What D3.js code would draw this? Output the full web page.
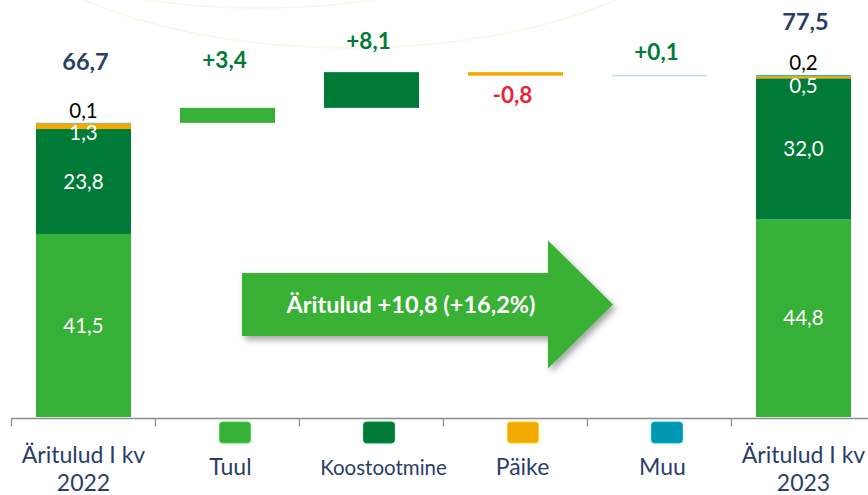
<!DOCTYPE html>
<html>
<head>
<meta charset="utf-8">
<script src="https://cdn.jsdelivr.net/npm/d3@7"></script>
<style>
  html, body { margin: 0; padding: 0; background: #fff; }
  svg { display: block; }
  text { font-family: Lato, "Noto Sans", sans-serif; }
</style>
</head>
<body>
<div id="chart"></div>
<script>
// ---------- data ----------
const categories = ["Äritulud I kv 2022", "Tuul", "Koostootmine", "Päike", "Muu", "Äritulud I kv 2023"];
const series = ["Tuul", "Koostootmine", "Päike", "Muu"];
const start2022 = [41.5, 23.8, 1.3, 0.1];   // Tuul, Koostootmine, Päike, Muu
const end2023   = [44.8, 32.0, 0.5, 0.2];
const changes   = [3.4, 8.1, -0.8, 0.1];    // Tuul, Koostootmine, Päike, Muu
const totals    = [66.7, 77.5];
const segLabels2022 = ["41,5", "23,8", "1,3", "0,1"];
const segLabels2023 = ["44,8", "32,0", "0,5", "0,2"];
const changeLabels  = ["+3,4", "+8,1", "-0,8", "+0,1"];
const totalLabels   = ["66,7", "77,5"];
const arrowText = "Äritulud +10,8 (+16,2%)";

// ---------- style ----------
const colors = { "Tuul": "#36b037", "Koostootmine": "#007a37", "Päike": "#f2aa00", "Muu": "#0096b2" };
const navy = "#2a3e6a";
const W = 868, H = 495;

const svg = d3.select("#chart").append("svg").attr("width", W).attr("height", H);

const defs = svg.append("defs");
const f = defs.append("filter").attr("id", "shadow").attr("x", "-10%").attr("y", "-10%").attr("width", "130%").attr("height", "140%");
f.append("feDropShadow").attr("dx", 3).attr("dy", 4).attr("stdDeviation", 3).attr("flood-color", "#000").attr("flood-opacity", 0.35);

// faint decorative arcs
const deco = svg.append("g").attr("fill", "none").attr("stroke", "#f8f7e8").attr("stroke-width", 1.5);
deco.append("ellipse").attr("cx", 260).attr("cy", -100).attr("rx", 300).attr("ry", 108);
deco.append("ellipse").attr("cx", 350).attr("cy", -120).attr("rx", 380).attr("ry", 168);

// ---------- scales ----------
const x = d3.scaleBand().domain(categories).range([11.5, 875.5]).paddingInner(0.34).paddingOuter(0.17);
const y = d3.scaleLinear().domain([0, 80]).range([417, 64.2]);
const step = x.step();
const bw = x.bandwidth();

// ---------- stacked start/end bars ----------
function stacked(cat, vals) {
  const g = svg.append("g");
  let acc = 0;
  const segs = vals.map((v, i) => { const s = { key: series[i], y0: acc, y1: acc + v }; acc += v; return s; });
  g.selectAll("rect").data(segs).join("rect")
    .attr("x", x(cat)).attr("width", bw)
    .attr("y", d => y(d.y1)).attr("height", d => y(d.y0) - y(d.y1))
    .attr("fill", d => colors[d.key]);
  return segs;
}
const s22 = stacked(categories[0], start2022);
const s23 = stacked(categories[5], end2023);

function segLabels(cat, segs, labels) {
  const cx = x(cat) + bw / 2;
  const g = svg.append("g").attr("text-anchor", "middle").attr("font-size", 20.5);
  [0, 1].forEach(i => {
    g.append("text").attr("x", cx).attr("y", (y(segs[i].y0) + y(segs[i].y1)) / 2).attr("dy", "0.35em")
      .attr("fill", "#fff").text(labels[i]);
  });
  g.append("text").attr("x", cx).attr("y", y(segs[2].y1) + 10).attr("dy", "0.35em")
    .attr("fill", "#fff").text(labels[2]);
  g.append("text").attr("x", cx).attr("y", y(segs[3].y1) - 12).attr("dy", "0.35em")
    .attr("fill", "#000").text(labels[3]);
}
segLabels(categories[0], s22, segLabels2022);
segLabels(categories[5], s23, segLabels2023);

// totals
const totalOffsets = [-61, -53];
[0, 5].forEach((ci, k) => {
  svg.append("text").attr("x", x(categories[ci]) + bw / 2 + 2).attr("y", y(totals[k]) + totalOffsets[k]).attr("dy", "0.35em")
    .attr("text-anchor", "middle").attr("font-size", 23.5).attr("font-weight", 700).attr("fill", navy).text(totalLabels[k]);
});

// ---------- waterfall change bars ----------
let running = totals[0];
const wf = changes.map((c, i) => { const d = { key: series[i], cat: categories[i + 1], from: running, to: running + c, c }; running += c; return d; });
svg.append("g").selectAll("rect").data(wf).join("rect")
  .attr("x", d => x(d.cat)).attr("width", bw)
  .attr("y", d => y(Math.max(d.from, d.to)))
  .attr("height", d => Math.max(1, Math.abs(y(d.from) - y(d.to))))
  .attr("fill", d => d.key === "Muu" ? "#a9d5de" : colors[d.key]);

const changeOffsets = [-48, -31, 19, -23];
svg.append("g").selectAll("text").data(wf).join("text")
  .attr("x", d => x(d.cat) + bw / 2 - 3)
  .attr("y", (d, i) => y(d.to) + changeOffsets[i])
  .attr("dy", "0.35em").attr("text-anchor", "middle").attr("font-size", 22.5).attr("font-weight", 700)
  .attr("fill", d => d.c >= 0 ? "#007a37" : "#e8243c")
  .text((d, i) => changeLabels[i]);

// ---------- axis ----------
const axisY = 418.5;
const axisG = svg.append("g").attr("stroke", "#8c8c8c").attr("stroke-width", 1.3);
axisG.append("line").attr("x1", x.range()[0]).attr("x2", W).attr("y1", axisY).attr("y2", axisY);
const boundaries = categories.map(c => x(c) - step * x.paddingInner() / 2);
axisG.selectAll("line.tick").data(boundaries).join("line").attr("class", "tick")
  .attr("x1", d => d).attr("x2", d => d).attr("y1", axisY).attr("y2", axisY + 8);

// end-bar category labels (two lines)
[0, 5].forEach(ci => {
  const parts = ["Äritulud I kv", categories[ci].slice(-4)];
  const cx = x(categories[ci]) + bw / 2;
  const t = svg.append("text").attr("text-anchor", "middle").attr("font-size", 23).attr("fill", navy);
  t.append("tspan").attr("x", cx).attr("y", 463).text(parts[0]);
  t.append("tspan").attr("x", cx).attr("y", 491).text(parts[1]);
});

// legend-like labels for middle categories
const legendFont = { "Tuul": 23, "Koostootmine": 20.5, "Päike": 23, "Muu": 23 };
const legendTextShift = { "Tuul": 3, "Koostootmine": 12, "Päike": 7, "Muu": 3 };
series.forEach((s, i) => {
  const cx = x(categories[i + 1]) + bw / 2;
  svg.append("rect").attr("x", cx - 8).attr("y", 422).attr("width", 31).attr("height", 21).attr("rx", 3)
    .attr("fill", colors[s]).attr("stroke", d3.color(colors[s]).brighter(0.6)).attr("stroke-width", 1);
  svg.append("text").attr("x", cx + legendTextShift[s]).attr("y", 475).attr("text-anchor", "middle")
    .attr("font-size", legendFont[s]).attr("fill", navy).text(s);
});

// ---------- big arrow ----------
const ax0 = 242, ax1 = 548, axTip = 613, ayMid = 304.5, bodyH = 63, headH = 128;
const arrowPath = d3.path();
arrowPath.moveTo(ax0, ayMid - bodyH / 2);
arrowPath.lineTo(ax1, ayMid - bodyH / 2);
arrowPath.lineTo(ax1, ayMid - headH / 2);
arrowPath.lineTo(axTip, ayMid);
arrowPath.lineTo(ax1, ayMid + headH / 2);
arrowPath.lineTo(ax1, ayMid + bodyH / 2);
arrowPath.lineTo(ax0, ayMid + bodyH / 2);
arrowPath.closePath();
svg.append("path").attr("d", arrowPath.toString()).attr("fill", "#37b135").attr("filter", "url(#shadow)");
svg.append("text").attr("x", 411).attr("y", ayMid).attr("dy", "0.35em").attr("text-anchor", "middle")
  .attr("font-size", 23.5).attr("font-weight", 700).attr("fill", "#fff").text(arrowText);
</script>
</body>
</html>
